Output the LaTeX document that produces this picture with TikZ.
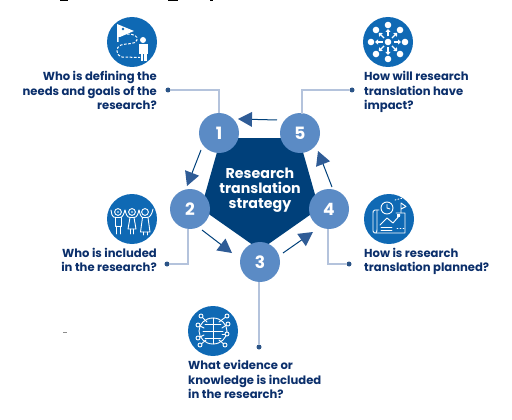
\documentclass[tikz,border=0pt]{standalone}
\usepackage{fontspec}
\setmainfont{Poppins}
\usetikzlibrary{calc}
\definecolor{navy}{HTML}{00407A}
\definecolor{numc}{HTML}{5B8BC5}
\definecolor{iconc}{HTML}{0F69B4}
\definecolor{linec}{HTML}{B4C3DC}
\definecolor{dotc}{HTML}{2B5487}
\definecolor{headc}{HTML}{2F5C96}
\definecolor{txt}{HTML}{0B2F6B}
\tikzset{
  numnode/.style={circle,fill=numc,minimum size=40pt,inner sep=0pt,text=white,font=\fontsize{17}{17}\selectfont\bfseries},
  iconbg/.style={circle,fill=iconc,minimum size=50pt,inner sep=0pt},
  qleft/.style={align=right,anchor=north east,inner sep=0pt,text=txt,font=\fontsize{11.6}{14.3}\selectfont\bfseries},
  qright/.style={align=left,anchor=north west,inner sep=0pt,text=txt,font=\fontsize{11.6}{14.3}\selectfont\bfseries},
  leader/.style={draw=linec,line width=1.1pt},
  dotn/.style={circle,fill=dotc,minimum size=5pt,inner sep=0pt},
  flowarrow/.style={draw=navy,line width=1pt},
  flowhead/.style={fill=headc,draw=none},
  ic/.style={draw=white,line width=0.9pt,fill=none,line cap=round,line join=round},
  icd/.style={draw=white,line width=1pt,fill=none,dash pattern=on 2.6pt off 1.6pt},
  icf/.style={fill=white,draw=none}
}
\newcommand{\flowarr}[4]{%
  \coordinate (s) at (#1,#2); \coordinate (t) at (#3,#4);
  \draw[flowarrow] (s) -- ($(t)!13pt!(s)$);
  \fill[flowhead] (t) -- ($(t)!14pt!(s)!7.5pt!90:(s)$) -- ($(t)!14pt!(s)!7.5pt!-90:(s)$) -- cycle;}
\begin{document}
\begin{tikzpicture}[x=1pt,y=-1pt]
\useasboundingbox (0,0) rectangle (512,420);
% cropped remnants at the top edge and the stray mark
\fill[black] (60,0) rectangle (68,1);
\fill[black] (168,0) rectangle (178,1);
\fill[black] (210,0) rectangle (213,1.5);
\fill[black!45] (63,331.5) rectangle (67,332.5);
% pentagon
\fill[navy] (221,138) -- (299,138) -- (319,208.6) -- (260,250) -- (201,208.6) -- cycle;
\node[text=white,align=center,font=\fontsize{14.2}{15}\selectfont\bfseries] (title) at (260,190) {Research\\translation\\strategy};
\node[dotn] (d1) at (168,90) {};
\node[dotn] (d5) at (352,90) {};
\node[dotn] (d2) at (167,264) {};
\node[dotn] (d4) at (349,264) {};
\node[dotn] (d3) at (259,347) {};
\node[numnode] (n1) at (219,133) {1};
\node[numnode] (n5) at (300,133) {5};
\node[numnode] (n2) at (190,209) {2};
\node[numnode] (n3) at (260,262) {3};
\node[numnode] (n4) at (329,209) {4};
\draw[leader] (d1) -- (219,90) -- (n1.north);
\draw[leader] (d5) -- (302,90) -- (302,114);
\draw[leader] (d2) -- (188,264) -- (188,229);
\draw[leader] (d4) -- (328,264) -- (328,229);
\draw[leader] (d3) -- (259,282);
\flowarr{277}{120}{238}{119}
\flowarr{201}{150}{187}{186}
\flowarr{202}{230}{232}{253}
\flowarr{283}{253}{313}{232}
\flowarr{332}{187}{318}{151}
\node[iconbg] (i1) at (132,42) {};
\node[iconbg] (i5) at (388,42) {};
\node[iconbg] (i2) at (132,219) {};
\node[iconbg] (i4) at (389,219) {};
\node[iconbg] (i3) at (213,331) {};
% icon 1: flag, dashed trail, person
\fill[white] (117,24) -- (134,31) -- (120,37) -- (118.5,37) -- (118.5,42) -- (117,42) -- cycle;
\fill[iconc] (123,29) circle (1.4);
\draw[icd] (127,34) .. controls (134,34) and (138,36) .. (137,40) .. controls (136,45) and (126,43) .. (121,45) .. controls (115,47) and (116,56) .. (122,57) -- (140,57.5);
\fill[white] (143,40) circle (3);
\fill[white] (139,44.5) rectangle (147.5,54);
\fill[white] (140.5,54) rectangle (143,61);
\fill[white] (144,54) rectangle (146.5,61);
% icon 5: hub and spokes
\fill[white] (388,42) circle (3.3);
\foreach \a in {0,45,...,315}{
  \fill[white] ($(388,42)+(\a:17)$) circle (3.3);
  \draw[white,line width=1.1pt] ($(388,42)+(\a:5.5)$) -- ($(388,42)+(\a:10.5)$);
  \fill[white] ($(388,42)+(\a:13)$) -- ($(388,42)+(\a:10)+(\a+90:2.6)$) -- ($(388,42)+(\a:10)+(\a-90:2.6)$) -- cycle;
}
% icon 2: three children
\foreach \x in {118,132,145}{\draw[ic] (\x,212) circle (3.4);}
\fill[white] (118,212) circle (0.9);
\fill[white] (132,212) circle (0.9);
\draw[ic] (111,210) -- (112,215) .. controls (113,217) and (114,217.5) .. (116,217.5) -- (120,217.5) .. controls (123,217.5) and (124,213) .. (125,210);
\draw[ic] (125,210) .. controls (126,214) and (127,217.5) .. (130,217.5) -- (134,217.5) .. controls (137,217.5) and (138,214) .. (139,210);
\draw[ic] (139,210) .. controls (140,214) and (141,217.5) .. (143,217.5) -- (147,217.5) .. controls (150,217.5) and (152,214) .. (153,209);
\draw[ic] (115,217.5) -- (115,226) -- (121,226) -- (121,217.5);
\draw[ic] (116,226) -- (116,234) (120,226) -- (120,234);
\draw[ic] (130,217.5) -- (128,229) -- (136,229) -- (134,217.5);
\draw[ic] (130.5,229) -- (130.5,234) (133.5,229) -- (133.5,234);
\draw[ic] (142.5,217.5) -- (140.5,232) -- (150,232) -- (148,217.5);
\draw[ic] (143.5,232) -- (143.5,235) (147,232) -- (147,235);
% icon 4: map, clock, flag
\draw[ic] (379,210) -- (375,210) .. controls (373,210) and (373,212) .. (373,213) -- (373,231) .. controls (373,233) and (375,233) .. (376,233) -- (405,233) -- (405,213) -- (396,213);
\draw[ic] (376,233) .. controls (377,232) and (377,230) .. (377,229) -- (377,210);
\draw[ic] (387,208) circle (6);
\draw[ic] (387,204.5) -- (387,208) -- (390,209);
\draw[ic] (380,225) -- (387,218) -- (393,223) -- (400,215);
\fill[white] (397,214) rectangle (400,217);
\draw[ic] (381,227.5) -- (392,227.5) (381,230.5) -- (392,230.5);
\draw[ic] (401,213) -- (401,203) -- (406,206.5) -- (401,209);
\draw[ic,dash pattern=on 1pt off 2pt] (397,228) -- (404,228);
\draw[ic,dash pattern=on 1pt off 2pt] (395,200) -- (403,198);
% icon 3: globe brain with circuit lines
\draw[ic] (213,331) ellipse (14 and 13);
\draw[ic] (213,318) -- (213,344);
\draw[ic] (205,324) -- (221,324) (203,331) -- (223,331) (205,338) -- (221,338);
\foreach \ex/\ey/\cx/\cy in {201/316/207/322,227/316/219/322,198/325/204/328,228/324/222/328,198/338/204/335,227/334/222/334,200/345/206/340,225/345/219/340}{
  \draw[ic] (\ex,\ey) -- (\cx,\cy);
  \filldraw[draw=white,fill=iconc,line width=0.9pt] (\ex,\ey) circle (2);
}
\node[qleft] (q1) at (157,71.5) {Who is defining the\\needs and goals of the\\research?};
\node[qright] (q5) at (364,71.5) {How will research\\translation have\\impact?};
\node[qleft] (q2) at (157,248) {Who is included\\in the research?};
\node[qright] (q4) at (364,248) {How is research\\translation planned?};
\node[qright] (q3) at (188,360.5) {What evidence or\\knowledge is included\\in the research?};
\end{tikzpicture}
\end{document}
